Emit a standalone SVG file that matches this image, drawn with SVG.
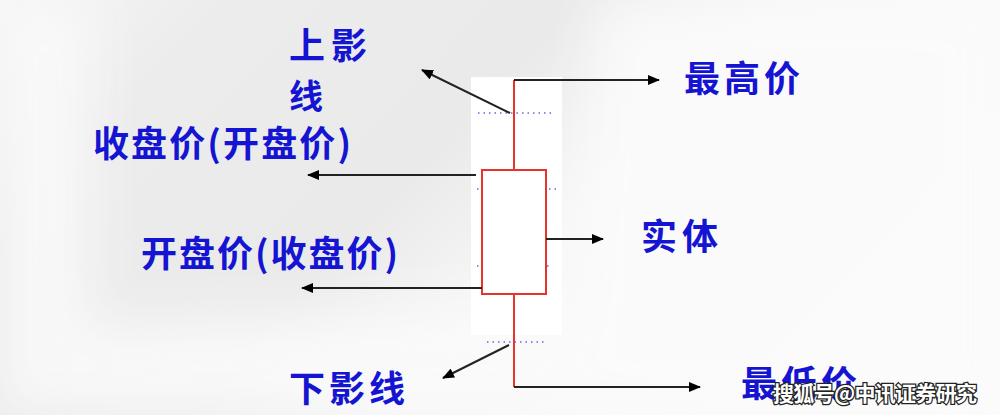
<svg xmlns="http://www.w3.org/2000/svg" width="1000" height="415" viewBox="0 0 1000 415">
  <defs>
    <marker id="ah" viewBox="0 0 12 10" refX="11" refY="5" markerWidth="12" markerHeight="10" markerUnits="userSpaceOnUse" orient="auto">
      <path d="M0,0 L12,5 L0,10 Z" fill="#000"/>
    </marker>
    <linearGradient id="bg" x1="0" y1="0" x2="1" y2="0.4">
      <stop offset="0" stop-color="#f6f6f6"/>
      <stop offset="0.2" stop-color="#ececec"/>
      <stop offset="0.5" stop-color="#eaeaea"/>
      <stop offset="0.68" stop-color="#f7f7f7"/>
      <stop offset="1" stop-color="#fbfbfb"/>
    </linearGradient>
    <filter id="blur" x="-20%" y="-20%" width="140%" height="140%">
      <feGaussianBlur stdDeviation="25"/>
    </filter>
    <style>
      .lbl { font-family: "Noto Sans CJK SC", "Noto Sans", sans-serif; font-weight: bold; fill: #1414d2; font-size: 36px; }
      .conn { stroke: #222; stroke-width: 2; fill: none; }
      .candle { stroke: #e8322c; stroke-width: 2; fill: #fff; }
      .dots { stroke: #6a6ad8; stroke-width: 1.5; stroke-dasharray: 1.5 4; }
      .wm { font-family: "Noto Sans CJK SC", sans-serif; font-weight: bold; font-size: 21px; fill: #fff; stroke: #222; stroke-width: 2.5; paint-order: stroke; }
    </style>
  </defs>

  <!-- background -->
  <rect width="1000" height="415" fill="url(#bg)"/>
  <g filter="url(#blur)" opacity="0.9">
    <path d="M600,0 L1000,0 L1000,415 L560,415 Z" fill="#fbfbfb"/>
    <path d="M0,330 L560,300 L560,415 L0,415 Z" fill="#fafafa"/>
    <path d="M0,0 L90,0 L90,415 L0,415 Z" fill="#f9f9f9"/>
  </g>
  <rect x="471" y="77" width="91" height="258" fill="#fff"/>

  <!-- candle -->
  <g id="candle">
    <line class="candle" x1="514" y1="80" x2="514" y2="170"/>
    <line class="candle" x1="514" y1="294" x2="514" y2="387"/>
    <rect class="candle" x="482" y="170" width="64" height="124"/>
    <line class="dots" x1="478" y1="113" x2="552" y2="113"/>
    <line class="dots" x1="487" y1="342" x2="545" y2="342"/>
    <line class="dots" x1="477" y1="189" x2="480" y2="189"/>
    <line class="dots" x1="549" y1="189" x2="558" y2="189"/>
    <line class="dots" x1="477" y1="266" x2="480" y2="266"/>
    <line class="dots" x1="547" y1="266" x2="550" y2="266"/>
  </g>

  <!-- connectors -->
  <g id="connectors">
    <line class="conn" x1="514" y1="80" x2="659" y2="80" marker-end="url(#ah)"/>
    <line class="conn" x1="510" y1="113" x2="422" y2="70" marker-end="url(#ah)"/>
    <line class="conn" x1="476" y1="175" x2="308" y2="175" marker-end="url(#ah)"/>
    <line class="conn" x1="546" y1="239" x2="603" y2="239" marker-end="url(#ah)"/>
    <line class="conn" x1="482" y1="288" x2="302" y2="288" marker-end="url(#ah)"/>
    <line class="conn" x1="509" y1="345" x2="443" y2="378" marker-end="url(#ah)"/>
    <line class="conn" x1="514" y1="387" x2="700" y2="387" marker-end="url(#ah)"/>
  </g>

  <!-- labels -->
  <g id="upper-shadow"><text class="lbl" x="289" y="59" textLength="78">上影</text><text class="lbl" x="289" y="109" style="font-size:34px">线</text></g>
  <g id="high"><text class="lbl" x="684" y="92" textLength="116">最高价</text></g>
  <g id="close-open"><text class="lbl" x="93" y="157" textLength="258">收盘价(开盘价)</text></g>
  <g id="body"><text class="lbl" x="641" y="250" textLength="77">实体</text></g>
  <g id="open-close"><text class="lbl" x="141" y="267" textLength="257">开盘价(收盘价)</text></g>
  <g id="lower-shadow"><text class="lbl" x="289" y="402" textLength="116">下影线</text></g>
  <g id="low"><text class="lbl" x="741" y="397" textLength="116">最低价</text></g>

  <!-- watermark -->
  <text class="wm" x="773" y="401" textLength="204">搜狐号@中讯证券研究</text>
</svg>
